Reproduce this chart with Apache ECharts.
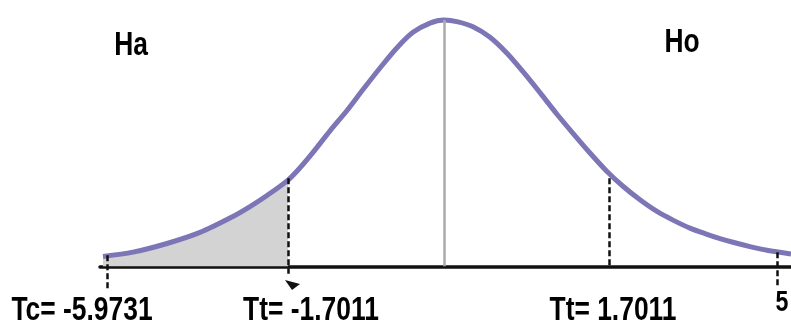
<!DOCTYPE html>
<html>
<head>
<meta charset="utf-8">
<style>
  html, body { margin: 0; padding: 0; background: #fff; }
  #chart { width: 791px; height: 327px; }
</style>
<script src="https://cdn.jsdelivr.net/npm/echarts@6/dist/echarts.min.js"></script>
</head>
<body>
<div id="chart"></div>
<script>
// curve (x in t-like units, y as density)
const curveX = [-3.41, -3.11, -2.77, -2.44, -2.11, -1.94, -1.77, -1.56, -1.44, -1.31, -1.14, -0.97,
  -0.81, -0.64, -0.47, -0.31, -0.14, 0, 0.14, 0.29, 0.46, 0.63, 0.79, 0.96, 1.13, 1.29, 1.46, 1.63,
  1.79, 1.96, 2.13, 2.29, 2.46, 2.63, 2.76, 2.89, 3.06, 3.23, 3.47];
const curveY = [0.016, 0.023, 0.037, 0.055, 0.081, 0.097, 0.115, 0.140, 0.160, 0.185, 0.220, 0.253,
  0.287, 0.322, 0.355, 0.380, 0.395, 0.400, 0.397, 0.389, 0.372, 0.346, 0.316, 0.282, 0.247, 0.216,
  0.184, 0.154, 0.130, 0.108, 0.089, 0.075, 0.062, 0.052, 0.045, 0.039, 0.032, 0.026, 0.020];

// rejection region ends at the left critical value
const shadeEndX = -1.56;

// dashed markers: Tc, -Tt, +Tt, 5
const markerX = [-3.37, -1.56, 1.65, 3.33];
const markerTop = [0.018, 0.143, 0.143, 0.023];
const markerBottom = [-0.040, -0.012, 0, -0.034];

// centre line
const centerX = 0;
const centerTop = 0.4;

const hypLabels = ["Ha", "Ho"];
const markerLabels = ["Tc= -5.9731", "Tt= -1.7011", "Tt= 1.7011", "5"];

const curve = curveX.map((x, i) => [x, curveY[i]]);
const shade = curve.filter((p) => p[0] <= shadeEndX);

const font = '"Liberation Sans", Arial, sans-serif';

const chart = echarts.init(document.getElementById("chart"));

// narrow bold look: squeeze Liberation Sans horizontally
const textEl = (text, x, y, size) => ({
  type: "text",
  x: x,
  y: y,
  scaleX: 0.8,
  style: {
    text: text,
    fontSize: size,
    fontWeight: "bold",
    fontFamily: font,
    fill: "#000",
    align: "center",
    verticalAlign: "middle",
  },
});

const option = {
  animation: false,
  grid: { left: 100, right: 0, top: 0, bottom: 33 },
  xAxis: {
    type: "value",
    min: -3.44,
    max: 3.47,
    axisLine: { show: true, onZero: true, lineStyle: { color: "#111", width: 3.5 } },
    axisTick: { show: false },
    axisLabel: { show: false },
    splitLine: { show: false },
  },
  yAxis: {
    type: "value",
    min: -0.045,
    max: 0.4325,
    show: false,
    splitLine: { show: false },
  },
  series: [
    {
      // grey tail
      type: "line",
      data: shade,
      smooth: 0.3,
      symbol: "none",
      lineStyle: { width: 0 },
      areaStyle: { color: "#d3d3d3", opacity: 1 },
      z: 1,
      silent: true,
    },
    {
      // centre + dashed markers
      type: "line",
      data: [],
      symbol: "none",
      silent: true,
      z: 2,
      markLine: {
        silent: true,
        symbol: "none",
        animation: false,
        label: { show: false },
        data: [
          [
            { coord: [centerX, centerTop], lineStyle: { color: "#aaa", width: 2.5, type: "solid" } },
            { coord: [centerX, 0] },
          ],
        ].concat(
          markerX.map((x, i) => [
            { coord: [x, markerTop[i]], lineStyle: { color: "#111", width: 2.5, type: [6, 3] } },
            { coord: [x, markerBottom[i]] },
          ])
        ),
      },
    },
    {
      type: "line",
      data: curve,
      smooth: 0.3,
      symbol: "none",
      lineStyle: { color: "#7c75b6", width: 5 },
      z: 3,
      silent: true,
    },
  ],
  graphic: [
    textEl(hypLabels[0], 131, 46, 33),
    textEl(hypLabels[1], 682, 43, 33),
    textEl(markerLabels[0], 82, 311, 33),
    textEl(markerLabels[1], 311, 311, 33),
    textEl(markerLabels[2], 613, 311, 33),
    textEl(markerLabels[3], 782, 303, 29),
    {
      type: "polygon",
      shape: { points: [[285, 280], [300, 284], [292, 290]] },
      style: { fill: "#111" },
    },
  ],
};

chart.setOption(option);
</script>
</body>
</html>
